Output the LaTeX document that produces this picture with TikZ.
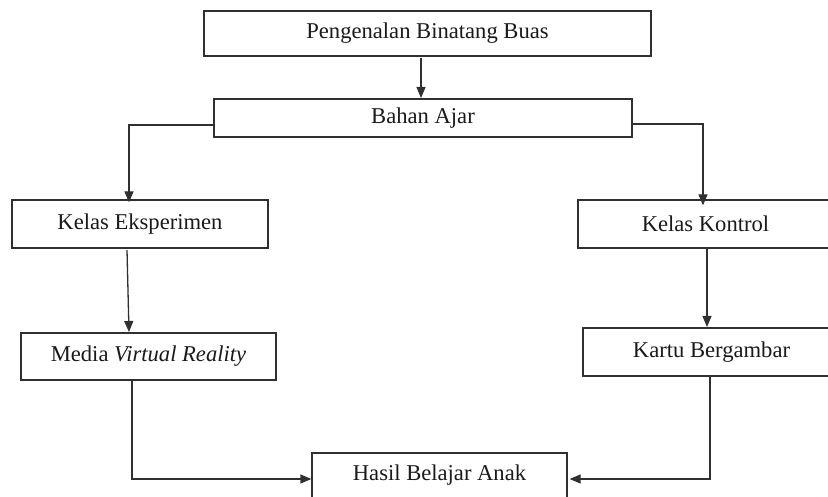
\documentclass[tikz,border=0pt]{standalone}
\usepackage{fontspec}
\setmainfont{Liberation Serif}
\usetikzlibrary{arrows.meta}
\definecolor{ln}{HTML}{303030}
\definecolor{tx}{HTML}{1A1A1A}
\begin{document}
\begin{tikzpicture}[x=1pt,y=-1pt,
  box/.style={draw=ln,line width=1.3pt,rectangle,inner sep=0pt,text=tx,
    font=\fontsize{22.6}{27}\selectfont},
  arr/.style={draw=ln,line width=1.3pt,-{Triangle[length=11pt,width=9pt]}}]
\useasboundingbox (0,0) rectangle (828,497);
\clip (0,0) rectangle (828,497);
\fill[white] (0,0) rectangle (828,497);
% boxes
\node[box,minimum width=447pt,minimum height=45pt] (b1) at (427.5,33.5) {Pengenalan Binatang Buas};
\node[box,minimum width=418pt,minimum height=38pt] (b2) at (423,118) {Bahan Ajar};
\node[box,minimum width=256pt,minimum height=48pt] (kl) at (140,224) {Kelas Eksperimen};
\node[box,minimum width=255pt,minimum height=48pt] (kr) at (705.5,224) {Kelas Kontrol};
\node[box,minimum width=255pt,minimum height=47pt] (ml) at (148.5,356.5) {Media \textit{Virtual Reality}};
\node[box,minimum width=257pt,minimum height=48pt] (mr) at (711.5,352) {Kartu Bergambar};
\node[box,minimum width=255pt,minimum height=45pt] (hb) at (439.5,475.5) {Hasil Belajar Anak};
% helper coordinates
\coordinate (t1) at (421,58);
\coordinate (t2) at (421,98);
\coordinate (cl) at (129,125);
\coordinate (cr) at (703,124);
\coordinate (el) at (127,250);
\coordinate (em) at (129,332);
\coordinate (kk) at (707,249);
\coordinate (km) at (707,327);
\coordinate (ll) at (132,479);
\coordinate (rr) at (710,479);
% connectors
\draw[arr] (t1) -- (t2);
\draw[arr] (b2.west |- cl) -- (cl) -- ([yshift=-3pt]cl |- kl.north);
\draw[arr] (b2.east |- cr) -- (cr) -- ([yshift=-6pt]cr |- kr.north);
\draw[arr] (el) -- (em);
\draw[arr] (kk) -- (km);
\draw[arr] (ll |- ml.south) -- (ll) -- (hb.west |- ll);
\draw[arr] (rr |- mr.south) -- (rr) -- ([xshift=2pt]hb.east |- rr);
\end{tikzpicture}
\end{document}
